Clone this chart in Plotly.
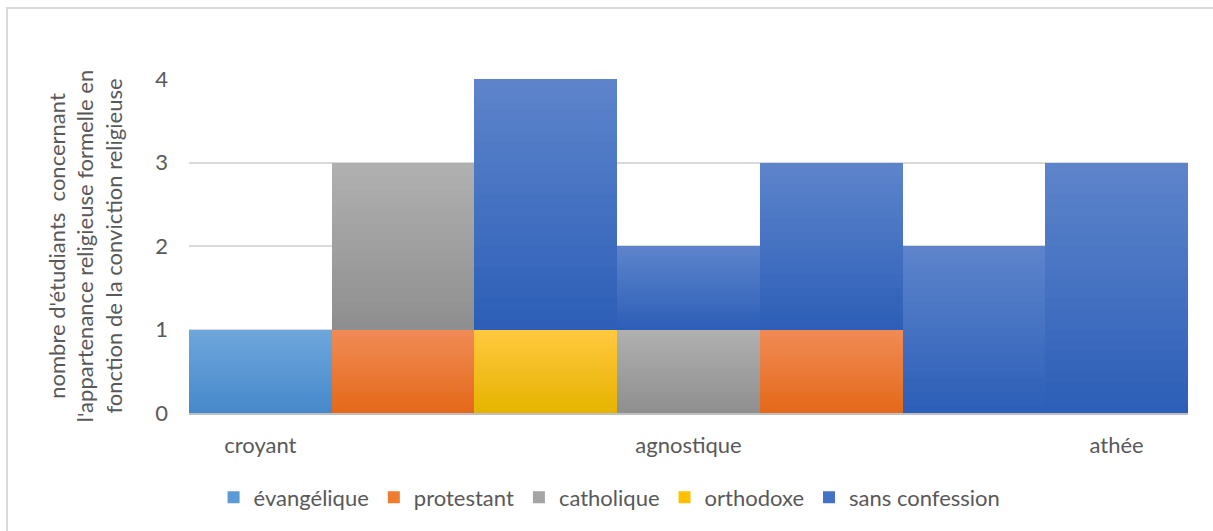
import plotly.graph_objects as go

# Columns grouped by religious conviction
columns = [0, 1, 2, 3, 4, 5, 6]
group_ticks = [0, 3, 6]
group_labels = ["croyant", "agnostique", "athée"]

# Student counts per formal religious affiliation (None = no segment)
evangelique = [1, None, None, None, None, None, None]
protestant = [None, 1, None, None, 1, None, None]
catholique = [None, 2, None, 1, None, None, None]
orthodoxe = [None, None, 1, None, None, None, None]
sans_confession = [None, None, 3, 1, 2, 2, 3]

series = [
    ("évangélique", evangelique, "#5b9bd5", ("#6fa6dc", "#4689cb")),
    ("protestant", protestant, "#ed7d31", ("#f08b55", "#e5691a")),
    ("catholique", catholique, "#a5a5a5", ("#b0b0b0", "#8f8f8f")),
    ("orthodoxe", orthodoxe, "#ffc000", ("#ffc83f", "#e6b400")),
    ("sans confession", sans_confession, "#4472c4", ("#5d84cb", "#2d5fb8")),
]

N_SLICES = 24


def hex_to_rgb(h):
    h = h.lstrip("#")
    return tuple(int(h[i:i + 2], 16) for i in (0, 2, 4))


def blend(c_bottom, c_top, t):
    a, b = hex_to_rgb(c_bottom), hex_to_rgb(c_top)
    return "rgb(%d,%d,%d)" % tuple(round(a[i] + (b[i] - a[i]) * t) for i in range(3))


fig = go.Figure()

# Each segment is filled with a vertical gradient built from thin stacked slices
for name, values, base, (top_c, bottom_c) in series:
    for k in range(N_SLICES):
        t = k / (N_SLICES - 1)
        fig.add_trace(go.Bar(
            x=columns,
            y=[None if v is None else v / N_SLICES for v in values],
            marker=dict(color=blend(bottom_c, top_c, t), line=dict(width=0)),
            showlegend=False,
            hoverinfo="skip",
        ))
    # legend entry
    fig.add_trace(go.Bar(
        x=columns, y=[None] * len(columns), name=name,
        marker=dict(color=base, line=dict(width=0)),
    ))

font_family = "Lato, 'Open Sans', sans-serif"
text_col = "#595959"
fs = 22

fig.update_layout(
    barmode="stack",
    bargap=0,
    width=1213,
    height=531,
    margin=dict(l=189, r=25, t=79, b=118),
    paper_bgcolor="white",
    plot_bgcolor="white",
    font=dict(family=font_family, size=fs, color=text_col),
    xaxis=dict(
        range=[-0.5, 6.5],
        tickvals=group_ticks,
        ticktext=group_labels,
        showgrid=False,
        zeroline=False,
        showline=True,
        linecolor="#bfbfbf",
        linewidth=2,
        ticks="",
        ticklabelstandoff=12,
        tickfont=dict(size=fs, color=text_col),
    ),
    yaxis=dict(
        range=[0, 4],
        tickvals=[0, 1, 2, 3, 4],
        showgrid=True,
        gridcolor="#d9d9d9",
        gridwidth=2,
        zeroline=False,
        showline=False,
        ticks="",
        ticklabelstandoff=20,
        tickfont=dict(size=fs, color=text_col),
        title=dict(
            text="nombre d'étudiants  concernant<br>l'appartenance religieuse formelle en<br>fonction de la conviction religieuse",
            font=dict(size=fs, color=text_col),
            standoff=26,
        ),
    ),
    legend=dict(
        orientation="h",
        x=0.421,
        xanchor="center",
        y=-0.19,
        yanchor="top",
        font=dict(size=fs, color=text_col),
        itemwidth=30,
        traceorder="normal",
    ),
    shapes=[
        dict(
            type="rect", xref="paper", yref="paper",
            x0=-0.1822, x1=1.05, y0=-0.40, y1=1.2126,
            line=dict(color="#d9d9d9", width=2),
            fillcolor="rgba(0,0,0,0)",
            layer="below",
        )
    ],
)

fig.write_html("out.html")
